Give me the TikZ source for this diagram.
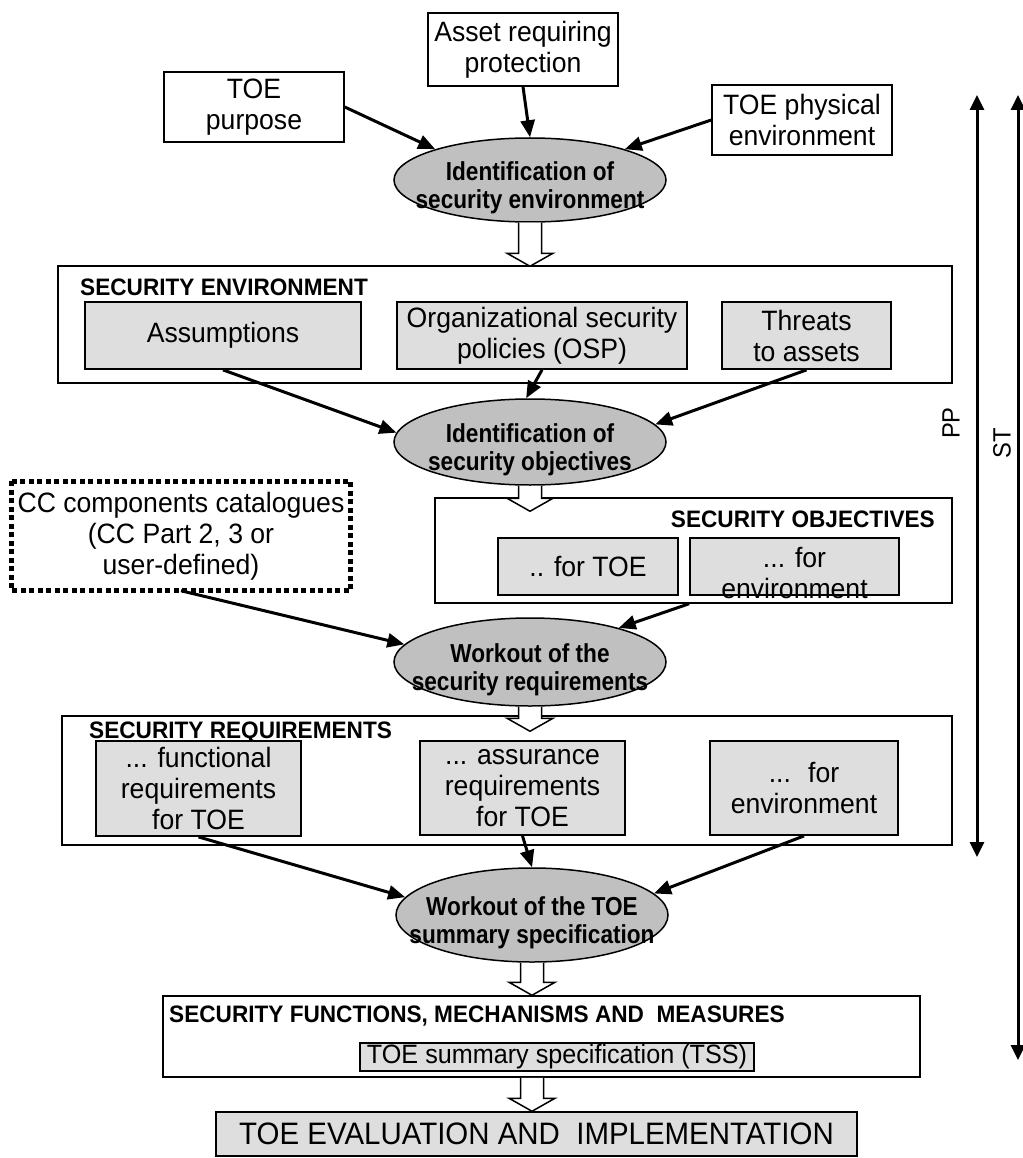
\documentclass[tikz,border=0pt]{standalone}
\usepackage{fontspec}
\setmainfont{Liberation Sans}[FakeStretch=0.95]
\newfontfamily\ovalfont{Liberation Sans}[FakeStretch=0.87]
\usetikzlibrary{shapes.geometric,arrows.meta,calc}

\definecolor{cellgray}{HTML}{DEDEDE}
\definecolor{ovalgray}{HTML}{C0C0C0}

\newcommand\txt{\fontsize{28}{31}\selectfont}

\tikzset{
  frame/.style={draw=black, line width=1.5pt, fill=white, inner sep=0pt},
  plain/.style={draw=black, line width=1.5pt, fill=white, inner sep=0pt, align=center, font=\txt},
  cell/.style={draw=black, line width=1.8pt, fill=cellgray, inner sep=0pt, align=center, font=\txt},
  oval/.style={ellipse, draw=black, line width=1.5pt, fill=ovalgray, inner sep=0pt},
  ovaltext/.style={align=center, inner sep=0pt, font=\ovalfont\bfseries\fontsize{26}{27.5}\selectfont},
  tag/.style={inner sep=0pt, font=\bfseries\fontsize{23.8}{25}\selectfont},
  link/.style={line width=3pt, -{Triangle[length=17pt,width=14pt]}},
  hollow/.style={draw=black, line width=1.5pt, fill=white},
  span/.style={line width=3pt, {Triangle[length=15pt,width=14pt]}-{Triangle[length=15pt,width=14pt]}},
  side/.style={rotate=90, inner sep=0pt, font=\fontsize{25}{28}\selectfont},
}

% hollow block arrow pointing down from #1 to the tip #2
\newcommand\hollowdrop[2]{%
  \draw[hollow] let \p1=(#1), \p2=(#2) in
    (\x1-11.5pt,\y1) -- (\x1-11.5pt,\y2+13pt) -- (\x1-23pt,\y2+13pt) -- (\x1,\y2)
    -- (\x1+23pt,\y2+13pt) -- (\x1+11.5pt,\y2+13pt) -- (\x1+11.5pt,\y1);}

\begin{document}
\begin{tikzpicture}[x=1pt,y=-1pt]
\useasboundingbox[fill=white] (0,0) rectangle (1022,1158);

% --- inputs and first process ---
\node[plain, minimum width=180pt, minimum height=70pt] (purpose) at (254,107) {TOE\\purpose};
\node[plain, minimum width=190pt, minimum height=73pt] (asset) at (523,49.5) {Asset requiring\\protection};
\node[plain, minimum width=180pt, minimum height=70pt] (phys) at (802,120) {TOE physical\\environment};
\node[oval, minimum width=272pt, minimum height=84pt] (ell1) at (530,180) {};
\node[ovaltext] (ell1t) at (530,188) {Identification of\\security environment};

% --- security environment ---
\node[frame, minimum width=894pt, minimum height=117pt] (se) at (505,324.5) {};
\node[tag, anchor=base west] (setag) at (80,295) {SECURITY ENVIRONMENT};
\node[cell, minimum width=276pt, minimum height=67pt] (assum) at (223,335.5) {Assumptions};
\node[cell, minimum width=290pt, minimum height=67pt] (osp) at (542,335.5) {Organizational security\\policies (OSP)};
\node[cell, minimum width=169pt, minimum height=67pt] (threat) at (806.5,335.5) {Threats\\to assets};
\node[oval, minimum width=272pt, minimum height=86pt] (ell2) at (530,442) {};
\node[ovaltext] (ell2t) at (530,450) {Identification of\\security objectives};

% --- security objectives ---
\node[frame, minimum width=517pt, minimum height=105pt] (so) at (693.5,550.5) {};
\node[tag, anchor=base east] (sotag) at (935,527) {SECURITY OBJECTIVES};
\node[cell, minimum width=180pt, minimum height=57pt] (fortoe) at (588,566.5) {.. for TOE};
\node[cell, minimum width=209pt, minimum height=57pt] (forenv) at (794.5,566.5) {};
\node[align=center, inner sep=0pt, font=\txt] (forenvt) at (794.5,573) {... for\\environment};
\node[plain, draw=none, minimum width=338pt, minimum height=108pt] (cat) at (181,536) {CC components catalogues\\(CC Part 2, 3 or\\user-defined)};
\draw[line width=4.8pt, dash pattern=on 5pt off 3.5pt] (cat.north west) rectangle (cat.south east);
\node[oval, minimum width=272pt, minimum height=88pt] (ell3) at (530,662) {};
\node[ovaltext] (ell3t) at (530,670) {Workout of the\\security requirements};

% --- security requirements ---
\node[frame, minimum width=890pt, minimum height=129pt] (sr) at (507,780.5) {};
\node[tag, anchor=base west] (srtag) at (89,738) {SECURITY REQUIREMENTS};
\node[cell, minimum width=205pt, minimum height=95pt] (func) at (198.5,788.5) {... functional\\requirements\\for TOE};
\node[cell, minimum width=205pt, minimum height=94pt] (assur) at (522.5,788) {... assurance\\requirements\\for TOE};
\node[cell, minimum width=188pt, minimum height=94pt] (envr) at (804,788) {...~ for\\environment};
\node[oval, minimum width=272pt, minimum height=94pt] (ell4) at (532,915) {};
\node[ovaltext] (ell4t) at (532,923) {Workout of the TOE\\summary specification};

% --- functions, mechanisms and measures ---
\node[frame, minimum width=757pt, minimum height=81pt] (sfmm) at (541.5,1036.5) {};
\node[tag, anchor=base west] (sfmmtag) at (169,1022) {SECURITY FUNCTIONS, MECHANISMS AND~ MEASURES};
\node[cell, line width=1.5pt, minimum width=394pt, minimum height=28pt, font=\fontsize{26.5}{28}\selectfont] (tss) at (557,1057) {TOE summary specification (TSS)};
\node[cell, line width=1.5pt, minimum width=641pt, minimum height=44pt, font=\fontsize{31}{33}\selectfont] (eval) at (536.5,1134) {TOE EVALUATION AND~ IMPLEMENTATION};

% --- connectors ---
\draw[link] (purpose.east) -- (ell1.162);
\draw[link] (asset.south) -- (ell1.north);
\draw[link] (phys.west) -- (ell1.18);
\draw[link] (assum.south) -- (ell2.176);
\draw[link] (osp.south) -- (ell2.95);
\draw[link] (threat.south) -- (ell2.8);
\draw[link] (cat.south) -- (ell3.172);
\draw[link] (forenv.south west |- so.south) -- (ell3.21);
\draw[link] (func.south) -- (ell4.172);
\draw[link] (assur.south) -- (ell4.north);
\draw[link] (envr.south) -- (ell4.10);

% --- block arrows between stages ---
\hollowdrop{ell1.south}{$(ell1.south |- se.north)+(0,1)$}
\hollowdrop{ell2.south}{$(ell2.south |- so.north)+(0,14)$}
\hollowdrop{ell3.south}{$(ell3.south |- sr.north)+(0,16)$}
\hollowdrop{ell4.south}{ell4.south |- sfmm.north}
\hollowdrop{ell4.south |- sfmm.south}{ell4.south |- eval.north}

% --- PP and ST scope ---
\coordinate (pptop) at (977,95);
\coordinate (ppbot) at (977,857);
\coordinate (sttop) at (1018,95);
\coordinate (stbot) at (1018,1060);
\draw[span] (pptop) -- (ppbot);
\draw[span] (sttop) -- (stbot);
\node[side] (pp) at (951,423) {PP};
\node[side] (st) at (1002,443) {ST};
\end{tikzpicture}
\end{document}
